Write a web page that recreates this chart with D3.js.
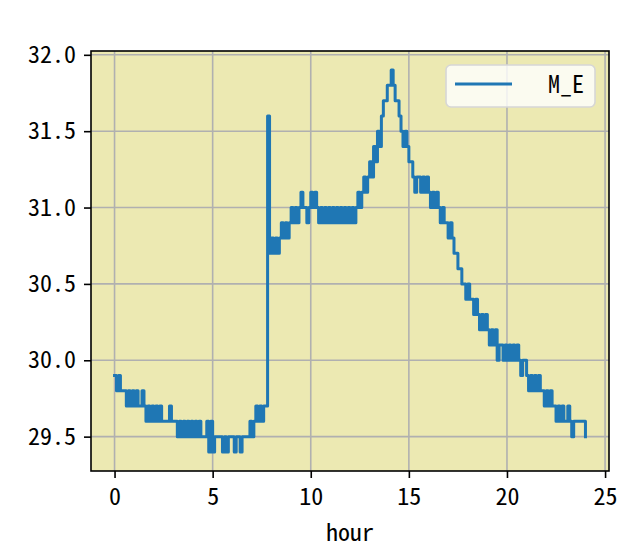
<!DOCTYPE html>
<html>
<head>
<meta charset="utf-8">
<script src="https://cdn.jsdelivr.net/npm/d3@7"></script>
<style>
  body { margin: 0; background: #fff; }
  text { font-family: "Noto Sans Mono CJK SC", "DejaVu Sans Mono", monospace; }
</style>
</head>
<body>
<div id="chart"></div>
<script>
// temperature readings, one every 6 minutes (0.1 h), from hour 0 to 24
const stepHours = 0.1;
const temps = [
  29.9, 29.8, 29.9, 29.8, 29.8, 29.8, 29.7, 29.8, 29.7, 29.8, // 0.0 - 0.9
  29.7, 29.8, 29.7, 29.7, 29.8, 29.7, 29.6, 29.7, 29.6, 29.7, // 1.0 - 1.9
  29.6, 29.7, 29.6, 29.7, 29.6, 29.6, 29.6, 29.6, 29.7, 29.6, // 2.0 - 2.9
  29.6, 29.6, 29.5, 29.6, 29.5, 29.6, 29.5, 29.6, 29.5, 29.6, // 3.0 - 3.9
  29.5, 29.6, 29.5, 29.6, 29.5, 29.5, 29.5, 29.6, 29.4, 29.6, // 4.0 - 4.9
  29.4, 29.5, 29.5, 29.5, 29.5, 29.4, 29.5, 29.4, 29.5, 29.5, // 5.0 - 5.9
  29.5, 29.4, 29.5, 29.5, 29.4, 29.5, 29.5, 29.5, 29.5, 29.6, // 6.0 - 6.9
  29.5, 29.6, 29.7, 29.6, 29.7, 29.6, 29.7, 29.7, 31.6, 30.7, // 7.0 - 7.9
  30.8, 30.7, 30.8, 30.7, 30.8, 30.9, 30.8, 30.9, 30.8, 30.9, // 8.0 - 8.9
  31.0, 30.9, 31.0, 30.9, 31.0, 31.1, 31.0, 31.0, 30.9, 31.0, // 9.0 - 9.9
  31.1, 31.0, 31.1, 31.0, 30.9, 31.0, 30.9, 31.0, 30.9, 31.0, // 10.0 - 10.9
  30.9, 31.0, 30.9, 31.0, 30.9, 31.0, 30.9, 31.0, 30.9, 31.0, // 11.0 - 11.9
  30.9, 31.0, 30.9, 31.0, 31.1, 31.0, 31.1, 31.2, 31.1, 31.2, // 12.0 - 12.9
  31.3, 31.2, 31.4, 31.3, 31.5, 31.4, 31.6, 31.7, 31.7, 31.8, // 13.0 - 13.9
  31.8, 31.9, 31.8, 31.7, 31.7, 31.6, 31.5, 31.4, 31.5, 31.4, // 14.0 - 14.9
  31.3, 31.3, 31.2, 31.1, 31.2, 31.2, 31.1, 31.2, 31.1, 31.2, // 15.0 - 15.9
  31.1, 31.0, 31.1, 31.0, 31.1, 31.0, 30.9, 31.0, 30.9, 30.9, // 16.0 - 16.9
  30.8, 30.9, 30.8, 30.7, 30.7, 30.6, 30.6, 30.5, 30.5, 30.4, // 17.0 - 17.9
  30.5, 30.4, 30.4, 30.3, 30.4, 30.3, 30.2, 30.3, 30.2, 30.3, // 18.0 - 18.9
  30.2, 30.1, 30.2, 30.1, 30.2, 30.0, 30.1, 30.1, 30.0, 30.1, // 19.0 - 19.9
  30.0, 30.1, 30.0, 30.1, 30.0, 30.1, 30.0, 29.9, 30.0, 30.0, // 20.0 - 20.9
  29.9, 29.8, 29.9, 29.8, 29.9, 29.8, 29.9, 29.8, 29.8, 29.7, // 21.0 - 21.9
  29.8, 29.7, 29.8, 29.7, 29.7, 29.6, 29.7, 29.6, 29.7, 29.6, // 22.0 - 22.9
  29.6, 29.7, 29.6, 29.5, 29.6, 29.6, 29.6, 29.6, 29.6, 29.6, // 23.0 - 23.9
  29.5                                                        // 24.0
];
const seriesName = "M_E";
const xTicks = [0, 5, 10, 15, 20, 25];
const yTicks = [29.5, 30.0, 30.5, 31.0, 31.5, 32.0];
const xLabel = "hour";

const data = temps.map((t, i) => ({ hour: i * stepHours, temp: t }));

const W = 622, H = 553;
const margin = { top: 51, right: 13, bottom: 82, left: 91 };
const width = W - margin.left - margin.right,
      height = H - margin.top - margin.bottom;
const fontSize = "24px";

const svg = d3.select("#chart").append("svg")
    .attr("width", W)
    .attr("height", H);

const g = svg.append("g")
    .attr("transform", `translate(${margin.left},${margin.top})`);

// matplotlib-style 5% padding round the data
const xExt = d3.extent(data, d => d.hour), yExt = d3.extent(data, d => d.temp);
const xPad = (xExt[1] - xExt[0]) * 0.05, yPad = (yExt[1] - yExt[0]) * 0.05;

const x = d3.scaleLinear()
  .domain([xExt[0] - xPad, xExt[1] + xPad])
  .range([0, width]);
const y = d3.scaleLinear()
  .domain([yExt[0] - yPad, yExt[1] + yPad])
  .range([height, 0]);

// background
g.append("rect")
  .attr("width", width)
  .attr("height", height)
  .attr("fill", "#ece9b2");

// grid
g.append("g").selectAll("line")
  .data(xTicks)
  .enter().append("line")
    .attr("x1", d => x(d)).attr("x2", d => x(d))
    .attr("y1", 0).attr("y2", height)
    .attr("stroke", "#b0b0b0").attr("stroke-width", 1.6);
g.append("g").selectAll("line")
  .data(yTicks)
  .enter().append("line")
    .attr("y1", d => y(d)).attr("y2", d => y(d))
    .attr("x1", 0).attr("x2", width)
    .attr("stroke", "#b0b0b0").attr("stroke-width", 1.6);

// line
g.append("clipPath").attr("id", "clip")
  .append("rect").attr("width", width).attr("height", height);

const line = d3.line()
  .curve(d3.curveStepAfter)
  .x(d => x(d.hour))
  .y(d => y(d.temp));

g.append("path")
  .datum(data)
  .attr("clip-path", "url(#clip)")
  .attr("fill", "none")
  .attr("stroke", "#1f77b4")
  .attr("stroke-width", 3)
  .attr("stroke-linejoin", "round")
  .attr("stroke-linecap", "square")
  .attr("d", line);

// axes
const xAxis = g.append("g")
  .attr("transform", `translate(0,${height})`)
  .call(d3.axisBottom(x).tickValues(xTicks).tickFormat(d3.format("d")).tickSizeInner(7).tickSizeOuter(0).tickPadding(10));
const yAxis = g.append("g")
  .call(d3.axisLeft(y).tickValues(yTicks).tickFormat(d3.format(".1f")).tickSizeInner(7).tickSizeOuter(0).tickPadding(8));

[xAxis, yAxis].forEach(a => {
  a.select(".domain").remove();
  a.selectAll(".tick line").attr("stroke", "#000").attr("stroke-width", 1.6);
  a.selectAll(".tick text").attr("fill", "#000").style("font-size", fontSize);
});

// frame
g.append("rect")
  .attr("width", width)
  .attr("height", height)
  .attr("fill", "none")
  .attr("stroke", "#000")
  .attr("stroke-width", 1.6);

// x label
g.append("text")
  .attr("x", width / 2)
  .attr("y", height + 70)
  .attr("text-anchor", "middle")
  .style("font-size", fontSize)
  .text(xLabel);

// legend
const legend = g.append("g")
  .attr("transform", `translate(${width - 163},${14})`);
legend.append("rect")
  .attr("width", 149)
  .attr("height", 42)
  .attr("rx", 5)
  .attr("fill", "#ffffff")
  .attr("fill-opacity", 0.8)
  .attr("stroke", "#d6d6d6")
  .attr("stroke-width", 1.6);
legend.append("line")
  .attr("x1", 9).attr("x2", 66)
  .attr("y1", 19).attr("y2", 19)
  .attr("stroke", "#1f77b4")
  .attr("stroke-width", 3);
legend.append("text")
  .attr("x", 138)
  .attr("y", 28)
  .attr("text-anchor", "end")
  .style("font-size", fontSize)
  .text(seriesName);
</script>
</body>
</html>
